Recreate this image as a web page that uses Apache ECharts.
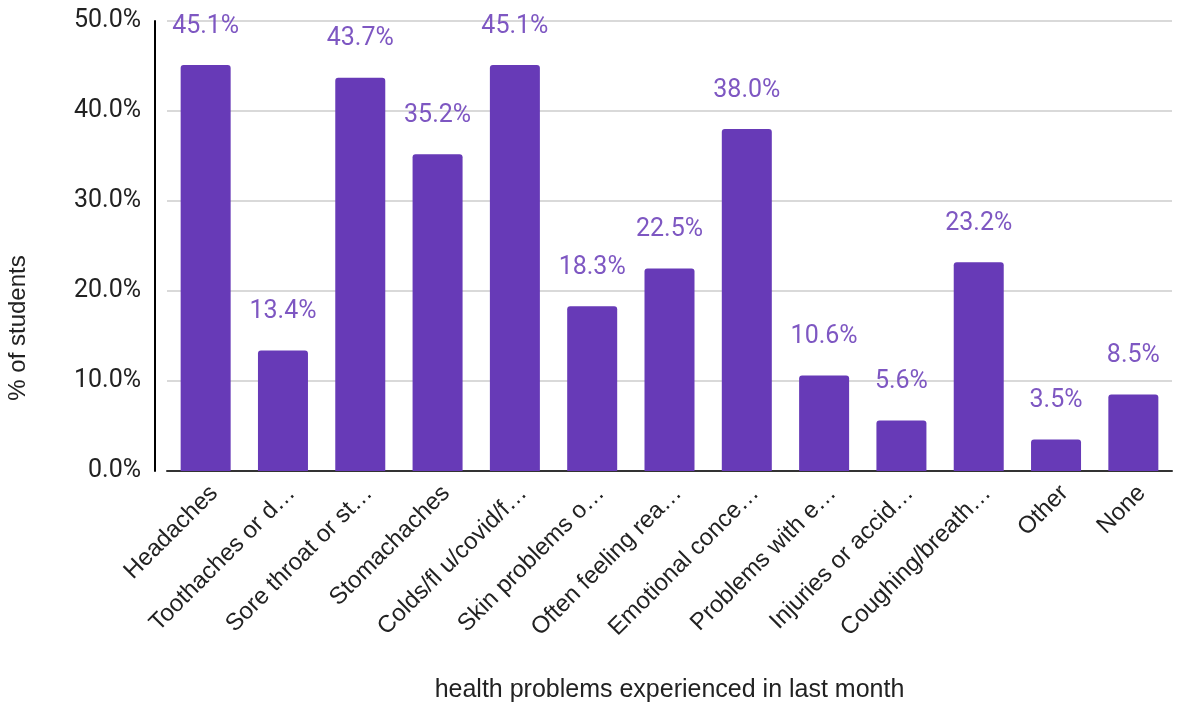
<!DOCTYPE html>
<html>
<head>
<meta charset="utf-8">
<script src="https://cdn.jsdelivr.net/npm/echarts@6/dist/echarts.min.js"></script>
<style>
  html, body { margin: 0; padding: 0; background: #fff; }
  #chart { width: 1180px; height: 706px; }
</style>
</head>
<body>
<div id="chart"></div>
<script>
const categories = [
  'Headaches',
  'Toothaches or d\u2026',
  'Sore throat or st\u2026',
  'Stomachaches',
  'Colds/fl u/covid/f\u2026',
  'Skin problems o\u2026',
  'Often feeling rea\u2026',
  'Emotional conce\u2026',
  'Problems with e\u2026',
  'Injuries or accid\u2026',
  'Coughing/breath\u2026',
  'Other',
  'None',
]
const percentValues = [45.1, 13.4, 43.7, 35.2, 45.1, 18.3, 22.5, 38.0, 10.6, 5.6, 23.2, 3.5, 8.5]

const arial = 'Liberation Sans, Arial, sans-serif'
const roboto = 'Roboto, sans-serif'

const chart = echarts.init(document.getElementById('chart'))
chart.setOption({
  animation: false,
  textStyle: { fontFamily: arial },
  grid: {
    left: 167,
    right: 8,
    top: 21,
    bottom: 235,
    outerBoundsMode: 'none',
    containLabel: false,
  },
  xAxis: {
    type: 'category',
    data: categories,
    name: 'health problems experienced in last month',
    nameLocation: 'middle',
    nameGap: 207,
    nameTextStyle: { fontSize: 25, color: '#222', fontFamily: arial },
    axisLine: { lineStyle: { color: '#333', width: 2 } },
    axisTick: { show: false },
    axisLabel: {
      interval: 0,
      rotate: 45,
      margin: 10,
      fontSize: 24,
      color: '#222',
      fontFamily: arial,
      verticalAlign: 'top',
    },
  },
  yAxis: {
    type: 'value',
    min: 0,
    max: 50,
    interval: 10,
    offset: 12,
    name: '% of students',
    nameLocation: 'middle',
    nameGap: 125,
    // push the title down so it sits lower than the plot centre, as in the original
    nameTextStyle: { fontSize: 24, color: '#222', fontFamily: arial, padding: [0, 164, 0, 0] },
    axisLine: { show: true, lineStyle: { color: '#000', width: 2 } },
    axisTick: { show: false },
    axisLabel: {
      fontSize: 25,
      color: '#222',
      margin: 14,
      fontFamily: roboto,
      formatter: (v) => v.toFixed(1) + '%',
    },
    splitLine: { lineStyle: { color: '#cccccc', width: 1.5 } },
  },
  series: [
    {
      type: 'bar',
      data: percentValues,
      barWidth: 50,
      itemStyle: { color: '#673ab7', borderRadius: [3, 3, 0, 0] },
      label: {
        show: true,
        position: 'top',
        distance: 26,
        fontSize: 25,
        color: '#7e57c2',
        fontFamily: roboto,
        formatter: (p) => p.value.toFixed(1) + '%',
      },
    },
  ],
})
</script>
</body>
</html>
